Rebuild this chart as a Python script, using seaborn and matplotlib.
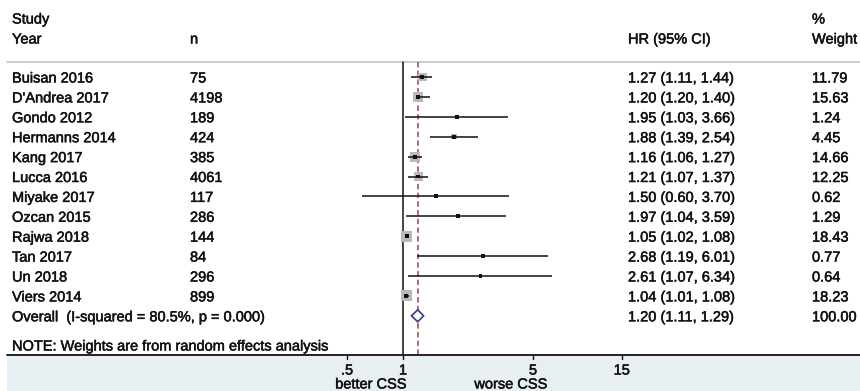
import numpy as np
import pandas as pd
import matplotlib
matplotlib.use("Agg")
import matplotlib.pyplot as plt
import matplotlib.patheffects as pe
import seaborn as sns

# ---- data ----
studies = ["Buisan 2016", "D'Andrea 2017", "Gondo 2012", "Hermanns 2014", "Kang 2017",
           "Lucca 2016", "Miyake 2017", "Ozcan 2015", "Rajwa 2018", "Tan 2017",
           "Un 2018", "Viers 2014"]
n_pat = [75, 4198, 189, 424, 385, 4061, 117, 286, 144, 84, 296, 899]
hr = [1.27, 1.20, 1.95, 1.88, 1.16, 1.21, 1.50, 1.97, 1.05, 2.68, 2.61, 1.04]
ci_lo = [1.11, 1.20, 1.03, 1.39, 1.06, 1.07, 0.60, 1.04, 1.02, 1.19, 1.07, 1.01]
ci_hi = [1.44, 1.40, 3.66, 2.54, 1.27, 1.37, 3.70, 3.59, 1.08, 6.01, 6.34, 1.08]
weight = [11.79, 15.63, 1.24, 4.45, 14.66, 12.25, 0.62, 1.29, 18.43, 0.77, 0.64, 18.23]

overall_label = "Overall  (I-squared = 80.5%, p = 0.000)"
overall_hr, overall_lo, overall_hi, overall_w = 1.20, 1.11, 1.29, 100.00
note = "NOTE: Weights are from random effects analysis"

tick_vals = [0.5, 1, 5, 15]
tick_labels = [".5", "1", "5", "15"]

# ---- layout (figure pixels) ----
W, H = 860, 391
ROW0, ROWH = 77.0, 19.9          # first study row centre, row spacing
X1_PX, PX_PER_DEC = 403.0, 186.0  # position of HR = 1 and log-scale density
LEFT_PX = 7


def row_of(py):
    return (py - ROW0) / ROWH


def fx(px):
    return px / W


sns.set_theme(style="white")
plt.rcParams["font.family"] = ["Liberation Sans", "DejaVu Sans"]
TXT = "#111111"
FS = 10.5
thick = [pe.withStroke(linewidth=0.35, foreground=TXT)]

fig = plt.figure(figsize=(W / 100, H / 100), dpi=100)
ax = fig.add_axes([0, 0, 1, 1])
ax.set_xscale("log")
ax.set_xlim(10 ** ((0 - X1_PX) / PX_PER_DEC), 10 ** ((W - X1_PX) / PX_PER_DEC))
ax.set_ylim(row_of(H), row_of(0))
ax.axis("off")

ytr = ax.get_yaxis_transform()   # x in axes fraction, y in row units

rows = np.arange(len(studies))
df = pd.DataFrame({"study": studies, "n": n_pat, "hr": hr, "lo": ci_lo,
                   "hi": ci_hi, "w": weight, "row": rows})
overall_row = len(studies)

# bottom band and rules
ax.axhspan(row_of(355.5), row_of(H + 5), xmin=fx(LEFT_PX), xmax=1,
           color="#e7eff2", lw=0, zorder=0)
ax.axhline(row_of(62), xmin=fx(LEFT_PX), xmax=1, color="#c4c4c4", lw=1.2, zorder=1)
ax.axhline(row_of(355), xmin=fx(LEFT_PX), xmax=1, color="#111111", lw=1.3, zorder=3)

# null line and pooled-estimate line
ax.plot([1, 1], [row_of(62), row_of(355)], color="#111111", lw=1.1, zorder=2)
ax.plot([overall_hr, overall_hr], [row_of(62), row_of(355)], color="#a2404c",
        lw=1.1, ls=(0, (3.5, 2.2)), zorder=2)

# weight boxes (area proportional to weight)
side_max_pt = 11.0 * 0.72
sns.scatterplot(data=df, x="hr", y="row", size="w", sizes=(0, side_max_pt ** 2),
                size_norm=(0, max(weight)), marker="s", color="#b9b9b9",
                edgecolor="none", legend=False, ax=ax, zorder=3)
# confidence intervals
ax.hlines(df["row"], df["lo"], df["hi"], color="#111111", lw=1.1, zorder=4)
# point estimates
sns.scatterplot(data=df, x="hr", y="row", marker="s", s=8, color="#111111",
                edgecolor="none", legend=False, ax=ax, zorder=5)

# pooled diamond
dh = 0.3
ax.fill([overall_lo, overall_hr, overall_hi, overall_hr, overall_lo],
        [overall_row, overall_row - dh, overall_row, overall_row + dh, overall_row],
        facecolor="white", edgecolor="#3a3a8a", lw=1.2, zorder=5)

# header
hdr = dict(transform=ytr, fontsize=FS, color=TXT, va="center_baseline",
           path_effects=thick)
ax.text(fx(12), row_of(18), "Study", **hdr)
ax.text(fx(12), row_of(38), "Year", **hdr)
ax.text(fx(190), row_of(38), "n", **hdr)
ax.text(fx(628), row_of(38), "HR (95% CI)", **hdr)
ax.text(fx(812), row_of(18), "%", **hdr)
ax.text(fx(812), row_of(38), "Weight", **hdr)

# study rows
for r, s, n, h, lo, hi, w in zip(rows, studies, n_pat, hr, ci_lo, ci_hi, weight):
    ax.text(fx(12), r, s, **hdr)
    ax.text(fx(190), r, str(n), **hdr)
    ax.text(fx(628), r, f"{h:.2f} ({lo:.2f}, {hi:.2f})", **hdr)
    ax.text(fx(812), r, f"{w:.2f}", **hdr)

ax.text(fx(12), overall_row, overall_label, **hdr)
ax.text(fx(628), overall_row, f"{overall_hr:.2f} ({overall_lo:.2f}, {overall_hi:.2f})", **hdr)
ax.text(fx(812), overall_row, f"{overall_w:.2f}", **hdr)
ax.text(fx(12), row_of(345), note, **hdr)

# x axis ticks and labels
lab_kw = dict(ha="center", va="center_baseline", fontsize=FS, color=TXT,
              path_effects=thick)
for v, lab in zip(tick_vals, tick_labels):
    ax.plot([v, v], [row_of(355), row_of(359)], color="#111111", lw=1.0, zorder=3)
    ax.text(v, row_of(369), lab, **lab_kw)
ax.text(10 ** ((371 - X1_PX) / PX_PER_DEC), row_of(383), "better CSS", **lab_kw)
ax.text(10 ** ((511 - X1_PX) / PX_PER_DEC), row_of(383), "worse CSS", **lab_kw)

fig.savefig("out.png", dpi=100, facecolor="white")
